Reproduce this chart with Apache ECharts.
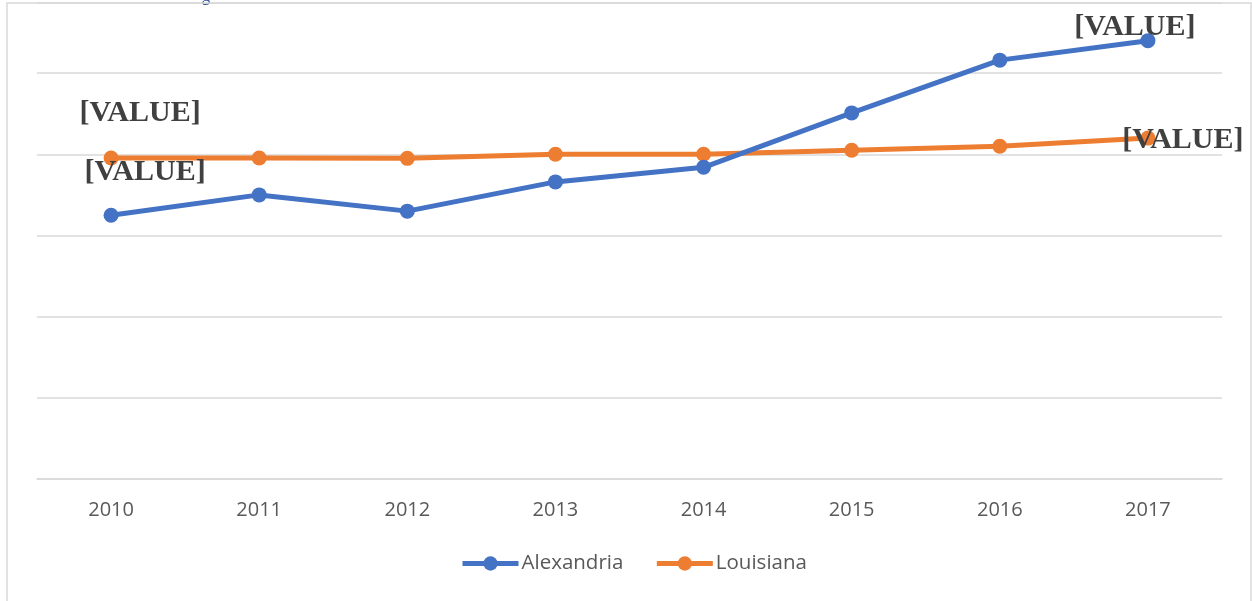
<!DOCTYPE html>
<html>
<head>
<meta charset="utf-8">
<script src="https://cdn.jsdelivr.net/npm/echarts@6/dist/echarts.min.js"></script>
<style>html,body{margin:0;padding:0;background:#fff}#c{width:1252px;height:601px}</style>
</head>
<body>
<div id="c"></div>
<script>
const years = ['2010','2011','2012','2013','2014','2015','2016','2017'];
const alexandria = [3.25, 3.50, 3.30, 3.66, 3.84, 4.51, 5.16, 5.40];
const louisiana = [3.955, 3.955, 3.95, 4.0, 4.0, 4.05, 4.10, 4.20];
const labelText = '[VALUE]';

const labelStyle = {
  show: true, position: 'inside', formatter: labelText,
  fontFamily: 'Liberation Serif', fontWeight: 'bold', fontSize: 30, color: '#404040'
};
function withLabels(vals, first, last) {
  return vals.map((v, i) => {
    if (i === 0) return { value: v, label: Object.assign({}, labelStyle, { offset: first }) };
    if (i === vals.length - 1) return { value: v, label: Object.assign({}, labelStyle, { offset: last }) };
    return v;
  });
}

const chart = echarts.init(document.getElementById('c'), null, { renderer: 'canvas' });
chart.setOption({
  animation: false,
  color: ['#4472C4', '#ED7D31'],
  grid: { left: 37, right: 30, top: 3, bottom: 122 },
  xAxis: {
    type: 'category', data: years, boundaryGap: true,
    axisLine: { show: true, lineStyle: { color: '#D9D9D9', width: 1.5 } },
    axisTick: { show: false },
    axisLabel: { color: '#595959', fontFamily: 'Open Sans', fontSize: 20, margin: 21 }
  },
  yAxis: {
    type: 'value', min: 0, max: 5.864, interval: 1,
    axisLine: { show: false }, axisTick: { show: false }, axisLabel: { show: false },
    splitLine: { lineStyle: { color: '#D9D9D9', width: 1.5 } }
  },
  legend: {
    bottom: 22, left: 455, itemWidth: 56, itemHeight: 18, itemGap: 31,
    lineStyle: { width: 5 },
    textStyle: { color: '#595959', fontFamily: 'Open Sans', fontSize: 20.5, padding: [0,0,0,-2] },
    data: ['Alexandria', 'Louisiana']
  },
  graphic: [
    { type: 'rect', shape: { x: 7, y: 3, width: 1244, height: 620 }, style: { fill: 'none', stroke: '#D9D9D9', lineWidth: 1.5 }, silent: true },
    { type: 'text', x: 203, y: -12, style: { text: 'g', fill: '#2F5597', font: 'italic 16px "Open Sans"' }, silent: true }
  ],
  series: [
    {
      name: 'Alexandria', type: 'line', data: withLabels(alexandria, [34, -43], [-13, -13]),
      symbol: 'circle', symbolSize: 15, lineStyle: { width: 5 }, z: 3
    },
    {
      name: 'Louisiana', type: 'line', data: withLabels(louisiana, [29, -45], [35, 2]),
      symbol: 'circle', symbolSize: 15, lineStyle: { width: 5 }, z: 2
    }
  ]
});
</script>
</body>
</html>
